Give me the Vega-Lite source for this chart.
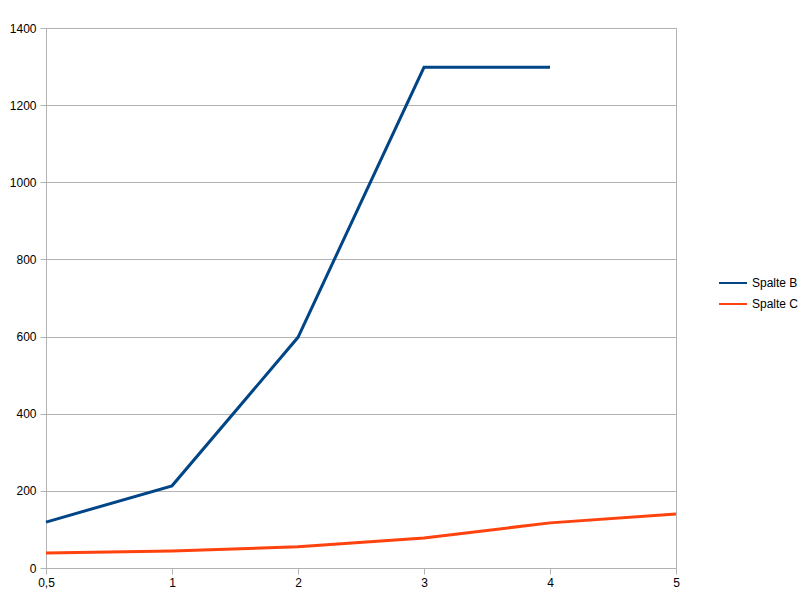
{
  "$schema": "https://vega.github.io/schema/vega-lite/v6.json",
  "autosize": "none",
  "width": 630,
  "height": 540,
  "padding": {"left": 46, "top": 28, "right": 129, "bottom": 35},
  "background": "white",
  "config": {
    "font": "Liberation Sans",
    "view": {"stroke": "#b3b3b3", "strokeWidth": 1}
  },
  "data": {
    "values": [
      {"x": "0,5", "series": "Spalte B", "value": 119},
      {"x": "1", "series": "Spalte B", "value": 213},
      {"x": "2", "series": "Spalte B", "value": 598},
      {"x": "3", "series": "Spalte B", "value": 1298},
      {"x": "4", "series": "Spalte B", "value": 1298},
      {"x": "0,5", "series": "Spalte C", "value": 39},
      {"x": "1", "series": "Spalte C", "value": 44},
      {"x": "2", "series": "Spalte C", "value": 55},
      {"x": "3", "series": "Spalte C", "value": 78},
      {"x": "4", "series": "Spalte C", "value": 117},
      {"x": "5", "series": "Spalte C", "value": 140}
    ]
  },
  "mark": {"type": "line", "strokeWidth": 3, "strokeJoin": "miter"},
  "encoding": {
    "x": {
      "field": "x",
      "type": "ordinal",
      "sort": ["0,5", "1", "2", "3", "4", "5"],
      "scale": {"type": "point", "padding": 0, "domain": ["0,5", "1", "2", "3", "4", "5"]},
      "axis": {
        "title": null,
        "labelAngle": 0,
        "labelFontSize": 12,
        "labelColor": "#000000",
        "domainColor": "#b3b3b3",
        "domainWidth": 1,
        "tickColor": "#b3b3b3",
        "tickSize": 6,
        "labelPadding": 3,
        "grid": false
      }
    },
    "y": {
      "field": "value",
      "type": "quantitative",
      "scale": {"domain": [0, 1400], "nice": false},
      "axis": {
        "title": null,
        "format": "d",
        "values": [0, 200, 400, 600, 800, 1000, 1200, 1400],
        "labelFontSize": 12,
        "labelColor": "#000000",
        "domainColor": "#b3b3b3",
        "tickColor": "#b3b3b3",
        "tickSize": 6,
        "labelPadding": 4,
        "gridColor": "#b3b3b3",
        "gridWidth": 1
      }
    },
    "color": {
      "field": "series",
      "type": "nominal",
      "scale": {"domain": ["Spalte B", "Spalte C"], "range": ["#004586", "#ff420e"]},
      "legend": {
        "title": null,
        "orient": "none",
        "legendX": 672,
        "legendY": 240,
        "labelFontSize": 12,
        "labelColor": "#000000",
        "symbolType": "stroke",
        "symbolSize": 784,
        "symbolStrokeWidth": 2,
        "labelOffset": 4,
        "rowPadding": -6
      }
    }
  }
}
